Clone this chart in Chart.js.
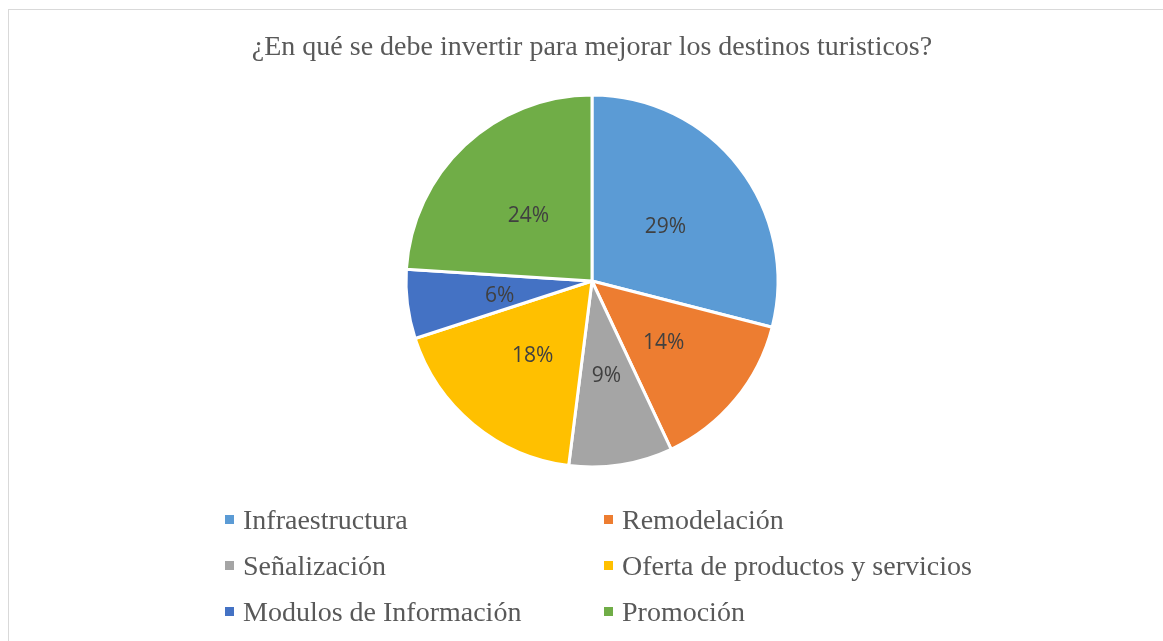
<!DOCTYPE html>
<html>
<head>
<meta charset="utf-8">
<script src="https://cdn.jsdelivr.net/npm/chart.js@4/dist/chart.umd.min.js"></script>
<style>
  html, body { margin: 0; padding: 0; background: #fff; overflow: hidden; }
  #frame {
    position: absolute; left: 8px; top: 9px; width: 1200px; height: 700px;
    border: 1px solid #d9d9d9; box-sizing: border-box;
  }
  #chart { position: absolute; left: 0; top: 0; }
  #legend { position: absolute; left: 0; top: 0; }
  .item {
    position: absolute; height: 30px; line-height: 30px; white-space: nowrap;
    font-family: 'Liberation Serif', 'Times New Roman', serif; font-size: 28px; color: #595959;
  }
  .item span.box {
    position: absolute; left: 0; top: 10px; width: 9px; height: 9px;
  }
  .item span.txt { position: absolute; left: 18px; top: 0; }
</style>
</head>
<body>
<div id="frame"></div>
<canvas id="chart" width="1163" height="641"></canvas>
<div id="legend"></div>
<script>
// datos
const titulo = '¿En qué se debe invertir para mejorar los destinos turisticos?'
const categorias = [
  'Infraestructura',
  'Remodelación',
  'Señalización',
  'Oferta de productos y servicios',
  'Modulos de Información',
  'Promoción',
]
const valores = [29, 14, 9, 18, 6, 24]
const colores = ['#5B9BD5', '#ED7D31', '#A5A5A5', '#FFC000', '#4472C4', '#70AD47']

// etiquetas de porcentaje en el centro de cada porcion
const pctLabels = {
  id: 'pctLabels',
  afterDatasetsDraw(chart) {
    const { ctx } = chart
    const meta = chart.getDatasetMeta(0)
    const data = chart.data.datasets[0].data
    const total = data.reduce((a, b) => a + b, 0)
    ctx.save()
    ctx.font = '21px "Open Sans", sans-serif'
    ctx.fillStyle = '#404040'
    ctx.textAlign = 'center'
    ctx.textBaseline = 'middle'
    meta.data.forEach((arc, i) => {
      const p = arc.getCenterPoint()
      ctx.fillText(Math.round((data[i] / total) * 100) + '%', p.x, p.y + 3)
    })
    ctx.restore()
  },
}

// leyenda html en dos columnas
const htmlLegend = {
  id: 'htmlLegend',
  afterUpdate(chart) {
    const box = document.getElementById('legend')
    box.innerHTML = ''
    const items = chart.options.plugins.legend.labels.generateLabels(chart)
    const colX = [225, 604]
    const rowY = [505, 551, 597]
    items.forEach((it, i) => {
      const d = document.createElement('div')
      d.className = 'item'
      d.style.left = colX[i % 2] + 'px'
      d.style.top = rowY[Math.floor(i / 2)] + 'px'
      const b = document.createElement('span')
      b.className = 'box'
      b.style.background = it.fillStyle
      const t = document.createElement('span')
      t.className = 'txt'
      t.textContent = it.text
      d.appendChild(b)
      d.appendChild(t)
      box.appendChild(d)
    })
  },
}

new Chart(document.getElementById('chart'), {
  type: 'pie',
  data: {
    labels: categorias,
    datasets: [
      {
        data: valores,
        backgroundColor: colores,
        borderColor: '#ffffff',
        borderWidth: 3,
        radius: 186,
      },
    ],
  },
  options: {
    responsive: false,
    devicePixelRatio: 1,
    animation: false,
    layout: { padding: { left: 21, right: 0, top: 0, bottom: 143.6 } },
    plugins: {
      legend: { display: false },
      tooltip: { enabled: false },
      title: {
        display: true,
        text: titulo,
        color: '#595959',
        font: { family: "'Liberation Serif', 'Times New Roman', serif", size: 28, weight: 'normal', lineHeight: 1.2 },
        padding: { top: 31, bottom: 0 },
      },
    },
  },
  plugins: [pctLabels, htmlLegend],
})
</script>
</body>
</html>
